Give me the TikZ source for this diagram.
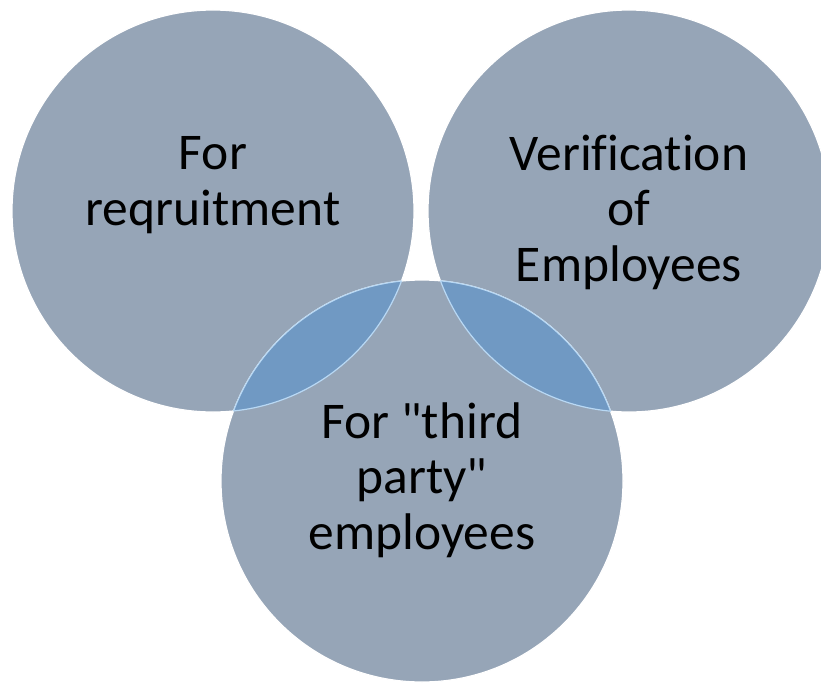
\documentclass[tikz,border=0pt]{standalone}
\usepackage{fontspec}
\setmainfont{Carlito}[Ligatures={CommonOff}]
\definecolor{circfill}{HTML}{96A5B7}
\definecolor{lensfill}{HTML}{7099C3}
\definecolor{lensline}{HTML}{B8D8F4}
\begin{document}
\begin{tikzpicture}[x=1pt,y=-1pt,
  venn/.style={circle,minimum size=402pt,inner sep=0pt,fill=circfill,draw=white,line width=1.2pt},
  lbl/.style={align=center,font=\fontsize{51.5}{55.5}\selectfont,text=black,anchor=base,inner sep=0pt}]
\useasboundingbox (0,0) rectangle (821,682);
\fill[white] (0,0) rectangle (821,682);
\node[venn] (L) at (213,211) {};
\node[venn] (R) at (629,211) {};
\node[venn] (B) at (422,481) {};
% overlap lenses
\begin{scope}
  \clip (B.center) circle (201pt);
  \fill[lensfill] (L.center) circle (201pt);
  \fill[lensfill] (R.center) circle (201pt);
\end{scope}
\begin{scope}
  \clip (B.center) circle (201pt);
  \draw[lensline,line width=1.2pt] (L.center) circle (201pt);
  \draw[lensline,line width=1.2pt] (R.center) circle (201pt);
\end{scope}
\begin{scope}
  \clip (L.center) circle (201pt) (R.center) circle (201pt);
  \draw[lensline,line width=1.2pt] (B.center) circle (201pt);
\end{scope}
\node[lbl] (tL) at (213,225) {For\\reqruitment};
\node[lbl] (tR) at (629,281) {Verification\\of\\Employees};
\node[lbl] (tB) at (422,549) {For \textquotedbl third\\party\textquotedbl\\employees};
\end{tikzpicture}
\end{document}
